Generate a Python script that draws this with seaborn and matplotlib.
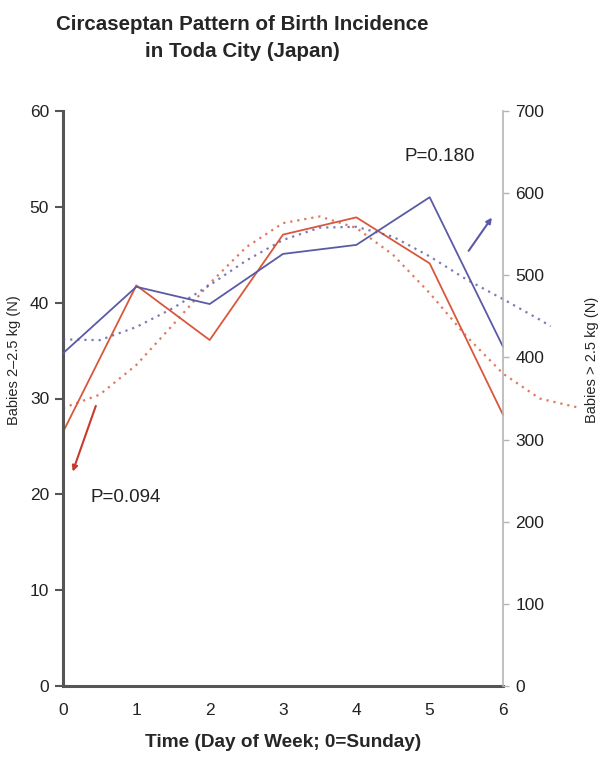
import numpy as np
import pandas as pd
import seaborn as sns
import matplotlib.pyplot as plt

# observed counts per weekday (0=Sunday)
days = [0, 1, 2, 3, 4, 5, 6]
low_weight = [26.5, 41.8, 36.1, 47.1, 48.9, 44.1, 28.3]       # babies 2-2.5 kg, left axis
normal_weight = [405, 486, 465, 526, 537, 595, 413]          # babies > 2.5 kg, right axis

# fitted cosine curves
fit_days_low = [0, 0.5, 1, 1.5, 2, 2.5, 3, 3.5, 4, 4.5, 5, 5.5, 6, 6.5, 7.0]
fit_low = [29.0, 30.4, 33.5, 37.7, 42.0, 45.8, 48.3, 49.0, 47.8, 45.0, 41.0, 36.5, 32.6, 30.0, 29.1]
fit_days_norm = [0, 0.5, 1, 1.5, 2, 2.5, 3, 3.5, 4, 4.5, 5, 5.5, 6, 6.5, 6.65]
fit_norm = [422, 421, 437, 460, 488, 518, 543, 558, 559, 547, 523, 495, 471, 446, 438]

p_low = "P=0.094"
p_norm = "P=0.180"

RED = "#d9573b"
BLUE = "#5a5aa6"

sns.set_style("white")
plt.rcParams['font.family'] = ['Liberation Sans', 'DejaVu Sans']

obs = pd.DataFrame({"day": days, "low": low_weight, "normal": normal_weight})
fit_l = pd.DataFrame({"day": fit_days_low, "val": fit_low})
fit_n = pd.DataFrame({"day": fit_days_norm, "val": fit_norm})

fig = plt.figure(figsize=(6.05, 7.59), dpi=100)
ax = fig.add_axes([63 / 605, 1 - 686 / 759, 440 / 605, 575 / 759])
ax2 = ax.twinx()

sns.lineplot(data=obs, x="day", y="low", ax=ax, color=RED, lw=1.3)
sns.lineplot(data=fit_l, x="day", y="val", ax=ax, color=RED, lw=1.6,
             linestyle=(0, (1, 2.2)), alpha=0.8)
sns.lineplot(data=obs, x="day", y="normal", ax=ax2, color=BLUE, lw=1.3)
sns.lineplot(data=fit_n, x="day", y="val", ax=ax2, color=BLUE, lw=1.6,
             linestyle=(0, (1, 2.2)), alpha=0.8)

ax.set_xlim(0, 6)
ax.set_ylim(0, 60)
ax2.set_ylim(0, 700)
for a in (ax, ax2):
    a.patch.set_visible(False)
    a.spines['top'].set_visible(False)
for line in ax.lines + ax2.lines:
    line.set_clip_on(False)

ax.set_xticks(days)
ax.set_yticks(range(0, 61, 10))
ax2.set_yticks(range(0, 701, 100))

ax.spines['left'].set_color('#555555')
ax.spines['left'].set_linewidth(2.2)
ax.spines['bottom'].set_color('#555555')
ax.spines['bottom'].set_linewidth(2.2)
ax.spines['right'].set_visible(False)
ax2.spines['left'].set_visible(False)
ax2.spines['bottom'].set_visible(False)
ax2.spines['right'].set_color('#b5b5b5')
ax2.spines['right'].set_linewidth(1.2)

ax.tick_params(axis='y', direction='out', length=6, width=1.5, color='#555555',
               labelsize=12.5, labelcolor='#222222', pad=4)
ax.tick_params(axis='x', direction='inout', length=7, width=1.3, color='#555555',
               labelsize=12.5, labelcolor='#222222', pad=9)
ax2.tick_params(axis='y', direction='out', length=4, width=1.0, color='#b5b5b5',
                labelsize=12.5, labelcolor='#222222', pad=5)

ax.set_xlabel("Time (Day of Week; 0=Sunday)", fontsize=13.7, fontweight='bold', labelpad=11)
ax.set_ylabel("Babies 2\u20132.5 kg (N)", fontsize=10.5)
ax.yaxis.set_label_coords(-0.096, 0.567)
ax2.set_ylabel("Babies > 2.5 kg (N)", fontsize=10.5)
ax2.yaxis.set_label_coords(1.186, 0.567)

ax.annotate("", xy=(0.12, 22.1), xytext=(0.46, 29.5),
            arrowprops=dict(arrowstyle='-|>', color='#c83a2a', lw=1.5, mutation_scale=8))
ax2.annotate("", xy=(5.87, 573), xytext=(5.51, 527),
             arrowprops=dict(arrowstyle='-|>', color=BLUE, lw=1.5, mutation_scale=8))
ax.text(0.85, 19.7, p_low, fontsize=13.5, ha='center', va='center', color='#222222')
ax.text(5.14, 55.2, p_norm, fontsize=13.5, ha='center', va='center', color='#222222')

fig.text(242 / 605, 1 - 38 / 759, "Circaseptan Pattern of Birth Incidence\nin Toda City (Japan)",
         fontsize=14.8, fontweight='bold', ha='center', va='center', linespacing=1.5)

fig.savefig("out.png", dpi=100)
